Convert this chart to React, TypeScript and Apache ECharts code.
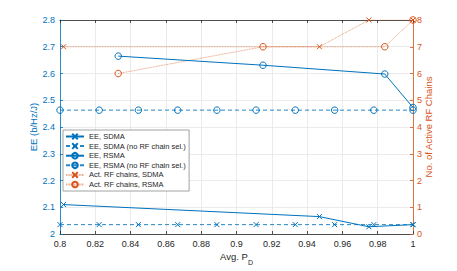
import React, { useEffect, useRef } from "react";
import * as echarts from "echarts";

const pdGrid = [0.8, 0.8222, 0.8444, 0.8667, 0.8889, 0.9111, 0.9333, 0.9556, 0.9778, 1.0];
const eeSdmaNoSel = [2.035, 2.035, 2.035, 2.035, 2.035, 2.035, 2.035, 2.035, 2.035, 2.035];
const eeRsmaNoSel = [2.463, 2.463, 2.463, 2.463, 2.463, 2.463, 2.463, 2.463, 2.463, 2.463];

const pdSdma = [0.802, 0.947, 0.975, 1.0];
const eeSdma = [2.11, 2.065, 2.027, 2.035];
const rfSdma = [7, 7, 8, 8];

const pdRsma = [0.833, 0.915, 0.984, 1.0];
const eeRsma = [2.665, 2.631, 2.598, 2.473];
const rfRsma = [6, 7, 7, 8];

const BLUE = "#0072BD";
const ORANGE = "#D95319";
const XMARK = "path://M0,0L10,10M10,0L0,10";
const FONT = "Liberation Sans, Arial, Helvetica, sans-serif";

const pairs = (xs: number[], ys: number[]) => xs.map((x, i) => [x, ys[i]]);

export default function App() {
  const ref = useRef<HTMLDivElement>(null);
  useEffect(() => {
    const chart = echarts.init(ref.current!, null, { renderer: "svg" });
    const xStyle = (c: string) => ({ color: "rgba(0,0,0,0)", borderColor: c, borderWidth: 1 });
    chart.setOption({
      animation: false,
      textStyle: { fontFamily: FONT },
      grid: { left: 60, right: 44, top: 20, bottom: 31.5, containLabel: false },
      legend: {
        orient: "vertical",
        left: 63,
        top: 130,
        itemWidth: 18,
        itemHeight: 7,
        itemGap: 0.6,
        padding: [2, 3, 2, 2],
        borderColor: "#8a8a8a",
        borderWidth: 0.8,
        backgroundColor: "#fff",
        borderRadius: 0,
        textStyle: { fontSize: 7.5, color: "#262626", lineHeight: 9, fontFamily: FONT },
        data: [
          "EE, SDMA",
          "EE, SDMA (no RF chain sel.)",
          "EE, RSMA",
          "EE, RSMA (no RF chain sel.)",
          "Act. RF chains, SDMA",
          "Act. RF chains, RSMA",
        ],
      },
      xAxis: [
        {
          type: "value",
          min: 0.8,
          max: 1,
          interval: 0.02,
          position: "bottom",
          name: "{a|Avg. P}{s|D}",
          nameLocation: "middle",
          nameGap: 17,
          nameMoveOverlap: false,
          nameTextStyle: {
            rich: {
              a: { fontSize: 9.5, color: "#262626", fontFamily: FONT, verticalAlign: "top" },
              s: { fontSize: 7, color: "#262626", fontFamily: FONT, padding: [8, 0, 0, 0] },
            },
          },
          axisLine: { lineStyle: { color: "#262626", width: 0.8 } },
          axisTick: { inside: true, length: 3, lineStyle: { color: "#262626", width: 0.8 } },
          axisLabel: { fontSize: 9, color: "#262626", margin: 5 },
          splitLine: { show: true, lineStyle: { color: "#e6e6e6", width: 0.8 } },
        },
        {
          type: "value",
          min: 0.8,
          max: 1,
          interval: 0.02,
          position: "top",
          axisLine: { lineStyle: { color: "#262626", width: 0.8 } },
          axisTick: { inside: true, length: 3, lineStyle: { color: "#262626", width: 0.8 } },
          axisLabel: { show: false },
          splitLine: { show: false },
        },
      ],
      yAxis: [
        {
          type: "value",
          min: 2,
          max: 2.8,
          interval: 0.1,
          position: "left",
          name: "EE (b/Hz/J)",
          nameLocation: "middle",
          nameGap: 22,
          nameMoveOverlap: false,
          nameTextStyle: { fontSize: 9.5, color: BLUE },
          axisLine: { show: true, lineStyle: { color: BLUE, width: 0.8 } },
          axisTick: { show: true, inside: true, length: 3, lineStyle: { color: BLUE, width: 0.8 } },
          axisLabel: { fontSize: 9, color: BLUE, margin: 5 },
          splitLine: { show: true, lineStyle: { color: "#e6e6e6", width: 0.8 } },
        },
        {
          type: "value",
          min: 0,
          max: 8,
          interval: 1,
          position: "right",
          name: "No. of Active RF Chains",
          nameLocation: "middle",
          nameGap: 10,
          nameMoveOverlap: false,
          nameRotate: 90,
          nameTextStyle: { fontSize: 9.5, color: ORANGE, verticalAlign: "top" },
          axisLine: { show: true, lineStyle: { color: ORANGE, width: 0.8 } },
          axisTick: { show: true, inside: true, length: 3, lineStyle: { color: ORANGE, width: 0.8 } },
          axisLabel: { fontSize: 9, color: ORANGE, margin: 4 },
          splitLine: { show: false },
        },
      ],
      series: [
        {
          name: "EE, SDMA",
          type: "line",
          yAxisIndex: 0,
          data: pairs(pdSdma, eeSdma),
          symbol: XMARK,
          symbolSize: 5,
          showAllSymbol: true,
          itemStyle: xStyle(BLUE),
          lineStyle: { color: BLUE, width: 1 },
          z: 5,
        },
        {
          name: "EE, SDMA (no RF chain sel.)",
          type: "line",
          yAxisIndex: 0,
          data: pairs(pdGrid, eeSdmaNoSel),
          symbol: XMARK,
          symbolSize: 5,
          showAllSymbol: true,
          itemStyle: xStyle(BLUE),
          lineStyle: { color: BLUE, width: 1, type: [4, 3], opacity: 0.85 },
          z: 4,
        },
        {
          name: "EE, RSMA",
          type: "line",
          yAxisIndex: 0,
          data: pairs(pdRsma, eeRsma),
          symbol: "circle",
          symbolSize: 6.5,
          showAllSymbol: true,
          itemStyle: xStyle(BLUE),
          lineStyle: { color: BLUE, width: 1 },
          z: 5,
        },
        {
          name: "EE, RSMA (no RF chain sel.)",
          type: "line",
          yAxisIndex: 0,
          data: pairs(pdGrid, eeRsmaNoSel),
          symbol: "circle",
          symbolSize: 6.5,
          showAllSymbol: true,
          itemStyle: xStyle(BLUE),
          lineStyle: { color: BLUE, width: 1, type: [4, 3], opacity: 0.85 },
          z: 4,
        },
        {
          name: "Act. RF chains, SDMA",
          type: "line",
          yAxisIndex: 1,
          data: pairs(pdSdma, rfSdma),
          symbol: XMARK,
          symbolSize: 5,
          showAllSymbol: true,
          itemStyle: xStyle(ORANGE),
          lineStyle: { color: ORANGE, width: 1, type: [1, 0.6], opacity: 0.5 },
          z: 3,
        },
        {
          name: "Act. RF chains, RSMA",
          type: "line",
          yAxisIndex: 1,
          data: pairs(pdRsma, rfRsma),
          symbol: "circle",
          symbolSize: 6.5,
          showAllSymbol: true,
          itemStyle: xStyle(ORANGE),
          lineStyle: { color: ORANGE, width: 1, type: [1, 0.6], opacity: 0.5 },
          z: 3,
        },
      ],
    });
    return () => chart.dispose();
  }, []);
  return <div ref={ref} style={{ width: 457, height: 271, position: "absolute", left: 0, top: 0 }} />;
}
